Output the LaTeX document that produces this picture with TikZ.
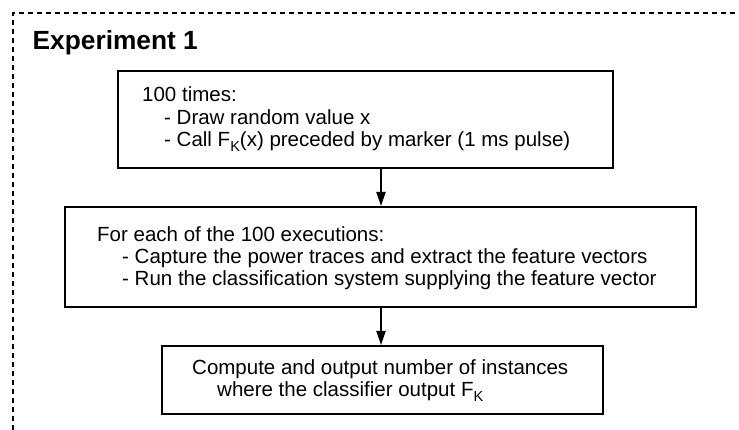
\documentclass[tikz,border=0pt]{standalone}
\usepackage{fontspec}
\setmainfont{Liberation Sans}
\usetikzlibrary{arrows.meta,fit}
\newcommand{\subK}{\raisebox{-5pt}{\fontsize{14.5pt}{14.5pt}\selectfont K}}
\begin{document}
\begin{tikzpicture}[x=1pt,y=-1pt,
  box/.style={draw, line width=2pt, inner sep=0pt},
  txt/.style={anchor=base west, inner sep=0pt, font=\fontsize{20.5pt}{22pt}\selectfont},
  title/.style={anchor=base west, inner sep=0pt, font=\fontsize{26.3pt}{28pt}\selectfont\bfseries},
  frame/.style={line width=2pt, dash pattern=on 5pt off 4pt},
  flow/.style={line width=2pt, -{Triangle[width=9pt,length=14pt]}}
]
\useasboundingbox (0,0) rectangle (739,430);
% outer dashed frame
\coordinate (fbl) at (12.5,430);
\coordinate (ftl) at (12.5,13.5);
\coordinate (ftr) at (739,13.5);
\draw[frame] (fbl) -- (ftl) -- (ftr);
\node (ttl) [title] at (32.5,49.5) {Experiment 1};
% boxes
\node (b1) [box, fit={(118,71) (613,168)}] {};
\node (b2) [box, fit={(65,207) (696,307)}] {};
\node (b3) [box, fit={(162,346) (603,414)}] {};
% box 1 text
\node (t1a) [txt] at (142,101.7) {100 times:};
\node (t1b) [txt] at (164,124.2) {- Draw random value x};
\node (t1c) [txt] at (164,146.7) {- Call F\subK(x) preceded by marker (1 ms pulse)};
% box 2 text
\node (t2a) [txt] at (97,242) {For each of the 100 executions:};
\node (t2b) [txt] at (122,264) {- Capture the power traces and extract the feature vectors};
\node (t2c) [txt] at (122,285.7) {- Run the classification system supplying the feature vector};
% box 3 text
\node (t3a) [txt] at (192,374.3) {Compute and output number of instances};
\node (t3b) [txt] at (217,396.7) {where the classifier output F\subK};
% arrows
\coordinate (ax) at (381,0);
\draw[flow] (b1.south -| ax) -- (b2.north -| ax);
\draw[flow] (b2.south -| ax) -- (b3.north -| ax);
\end{tikzpicture}
\end{document}
